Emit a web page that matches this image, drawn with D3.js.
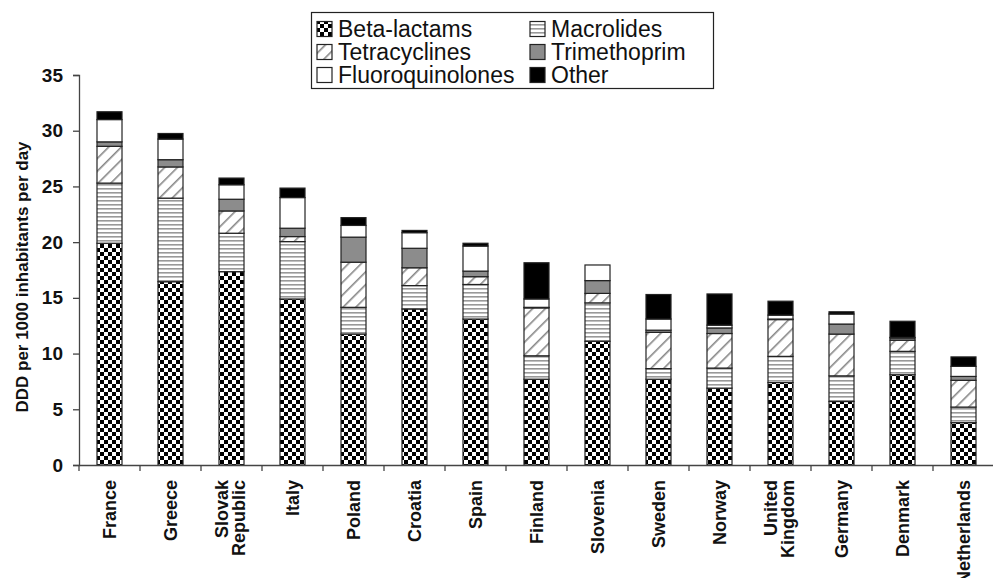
<!DOCTYPE html>
<html><head><meta charset="utf-8">
<script src="https://cdn.jsdelivr.net/npm/d3@7"></script>
<style>body{margin:0;background:#fff}svg{display:block;font-family:Arial,"Liberation Sans",sans-serif}</style>
</head><body><svg id="c" width="993" height="578"></svg>
<script>
const categories = ["France","Greece","Slovak Republic","Italy","Poland","Croatia","Spain","Finland","Slovenia","Sweden","Norway","United Kingdom","Germany","Denmark","Netherlands"];
const categoryLines = [["France"],["Greece"],["Slovak","Republic"],["Italy"],["Poland"],["Croatia"],["Spain"],["Finland"],["Slovenia"],["Sweden"],["Norway"],["United","Kingdom"],["Germany"],["Denmark"],["Netherlands"]];
const seriesNames = ["Beta-lactams","Macrolides","Tetracyclines","Trimethoprim","Fluoroquinolones","Other"];
const betaLactams      = [19.9,16.45,17.35,14.9,11.75,14.0,13.1,7.7,11.1,7.7,6.9,7.4,5.7,8.1,3.8];
const macrolides       = [5.4,7.5,3.45,5.15,2.4,2.1,3.1,2.1,3.45,0.95,1.8,2.35,2.3,2.1,1.4];
const tetracyclines    = [3.3,2.8,2.0,0.45,4.05,1.6,0.7,4.3,0.85,3.25,3.1,3.3,3.75,1.0,2.4];
const trimethoprim     = [0.4,0.65,1.05,0.75,2.25,1.75,0.5,0.05,1.15,0.2,0.5,0.05,0.9,0.2,0.35];
const fluoroquinolones = [2.0,1.85,1.3,2.75,1.05,1.4,2.25,0.75,1.4,1.0,0.25,0.35,0.9,0.05,0.9];
const other            = [0.7,0.5,0.6,0.85,0.7,0.2,0.25,3.25,0,2.2,2.8,1.25,0.2,1.45,0.85];
const yTicks = [0,5,10,15,20,25,30,35];
const yTitle = "DDD per 1000 inhabitants per day";

const seriesValues = [betaLactams,macrolides,tetracyclines,trimethoprim,fluoroquinolones,other];
const table = categories.map((c,i)=>{const o={cat:c}; seriesNames.forEach((s,j)=>o[s]=seriesValues[j][i]); return o;});
const stacked = d3.stack().keys(seriesNames)(table);

const svg = d3.select("#c");
const defs = svg.append("defs");
const pChk = defs.append("pattern").attr("id","p0").attr("patternUnits","userSpaceOnUse").attr("width",8).attr("height",8);
pChk.append("rect").attr("width",8).attr("height",8).attr("fill","#fff");
pChk.append("rect").attr("width",4).attr("height",4).attr("fill","#000");
pChk.append("rect").attr("x",4).attr("y",4).attr("width",4).attr("height",4).attr("fill","#000");
const pH = defs.append("pattern").attr("id","p1").attr("patternUnits","userSpaceOnUse").attr("width",8).attr("height",4);
pH.append("rect").attr("width",8).attr("height",4).attr("fill","#fff");
pH.append("rect").attr("y",0).attr("width",8).attr("height",1.6).attr("fill","#999");
const pD = defs.append("pattern").attr("id","p2").attr("patternUnits","userSpaceOnUse").attr("width",9).attr("height",9).attr("patternTransform","rotate(45)");
pD.append("rect").attr("width",9).attr("height",9).attr("fill","#fff");
pD.append("rect").attr("x",0).attr("width",1.6).attr("height",9).attr("fill","#888");
const fills = ["url(#p0)","url(#p1)","url(#p2)","#8c8c8c","#fff","#000"];

const x = d3.scaleBand().domain(categories).range([79,994]).padding(0);
const y = d3.scaleLinear().domain([0,35]).range([465,75]);
const barW = x.bandwidth()*0.41;

const g = svg.append("g");
stacked.forEach((s,j)=>{
  g.selectAll(null).data(s).join("rect")
    .attr("x",d=>x(d.data.cat)+(x.bandwidth()-barW)/2)
    .attr("y",d=>y(d[1]))
    .attr("width",barW)
    .attr("height",d=>Math.max(0,y(d[0])-y(d[1])))
    .attr("fill",fills[j])
    .attr("stroke",d=>(d[1]-d[0])>0?"#222":"none").attr("stroke-width",1.2);
});

const ya = svg.append("g").attr("transform","translate(79,0)")
  .call(d3.axisLeft(y).tickValues(yTicks).tickSize(6).tickPadding(10));
ya.select(".domain").attr("stroke","#444").attr("stroke-width",1.3);
ya.selectAll(".tick line").attr("stroke","#444").attr("stroke-width",1.3);
ya.selectAll("text").attr("font-size",19).attr("font-weight","bold").attr("fill","#111").attr("font-family","Arial,'Liberation Sans',sans-serif");

const xa = svg.append("g").attr("transform","translate(0,465)")
  .call(d3.axisBottom(x).tickSize(0).tickFormat(""));
xa.select(".domain").attr("stroke","#444").attr("stroke-width",1.3);
const bounds = categories.map(c=>x(c)).concat([x.range()[1]]);
xa.selectAll(".btick").data(bounds).join("line").attr("class","btick")
  .attr("x1",d=>d).attr("x2",d=>d).attr("y1",0).attr("y2",6).attr("stroke","#444").attr("stroke-width",1.3);
const lab = svg.append("g");
categories.forEach((c,i)=>{
  const lines = categoryLines[i];
  const cx = x(c)+x.bandwidth()/2;
  const t = lab.append("text").attr("transform",`translate(${cx},480) rotate(-90)`)
    .attr("text-anchor","end").attr("font-size",18).attr("font-weight","bold").attr("fill","#111");
  lines.forEach((ln,k)=>{
    const off = lines.length>1 ? (k===0?-10:7) : 0;
    t.append("tspan").attr("x",0).attr("y",off).attr("dy","0.35em").text(ln);
  });
});

svg.append("text").attr("transform","translate(22,277) rotate(-90)").attr("text-anchor","middle")
  .attr("dy","0.35em").attr("font-size",17).attr("font-weight","bold").attr("fill","#111").text(yTitle);

const lg = svg.append("g");
lg.append("rect").attr("x",311.5).attr("y",12.5).attr("width",402).attr("height",76).attr("fill","#fff").attr("stroke","#222").attr("stroke-width",1.2);
const legCols = [317,530], legRows = [29,52,75];
const legOrder = [[0,0,0],[1,1,0],[2,0,1],[3,1,1],[4,0,2],[5,1,2]];
legOrder.forEach(([si,col,row])=>{
  const lx = legCols[col], ly = legRows[row];
  lg.append("rect").attr("x",lx).attr("y",ly-7.5).attr("width",15).attr("height",15).attr("fill",fills[si]).attr("stroke","#222").attr("stroke-width",1.2);
  lg.append("text").attr("x",lx+21).attr("y",ly).attr("dy","0.35em").attr("font-size",23).attr("fill","#111").text(seriesNames[si]);
});
</script></body></html>
